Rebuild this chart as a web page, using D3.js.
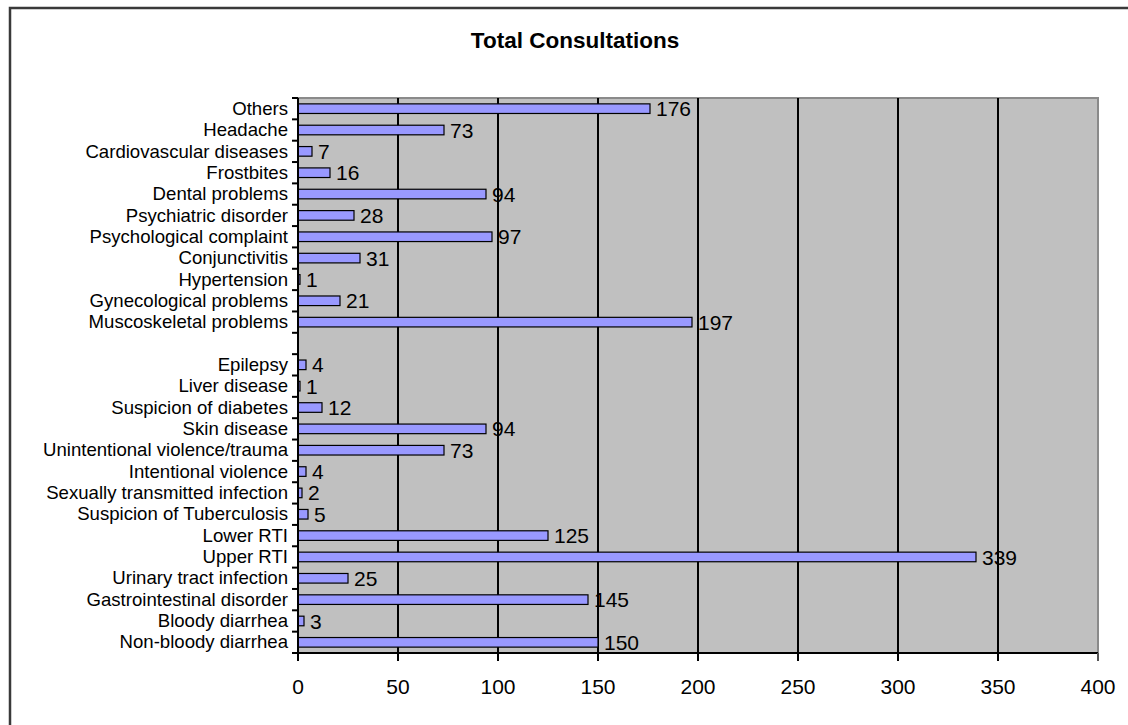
<!DOCTYPE html>
<html>
<head>
<meta charset="utf-8">
<script src="https://cdn.jsdelivr.net/npm/d3@7/dist/d3.min.js"></script>
<style>
  html, body { margin: 0; padding: 0; background: #fff; }
  svg { display: block; font-family: Arial, "Liberation Sans", sans-serif; }
</style>
</head>
<body>
<div id="chart"></div>
<script>
// categories top to bottom; "" is the empty row between the two groups
const categories = [
  "Others", "Headache", "Cardiovascular diseases", "Frostbites", "Dental problems",
  "Psychiatric disorder", "Psychological complaint", "Conjunctivitis", "Hypertension",
  "Gynecological problems", "Muscoskeletal problems", "",
  "Epilepsy", "Liver disease", "Suspicion of diabetes", "Skin disease",
  "Unintentional violence/trauma", "Intentional violence", "Sexually transmitted infection",
  "Suspicion of Tuberculosis", "Lower RTI", "Upper RTI", "Urinary tract infection",
  "Gastrointestinal disorder", "Bloody diarrhea", "Non-bloody diarrhea"
];
const consultations = [
  176, 73, 7, 16, 94,
  28, 97, 31, 1,
  21, 197, null,
  4, 1, 12, 94,
  73, 4, 2,
  5, 125, 339, 25,
  145, 3, 150
];
const xTicks = [0, 50, 100, 150, 200, 250, 300, 350, 400];
const title = "Total Consultations";

const data = categories.map((c, i) => ({ i, name: c, value: consultations[i] }));

const W = 1128, H = 725;
const m = { l: 298, r: 30, t: 98, b: 72 };
const x = d3.scaleLinear().domain([0, 400]).range([m.l, W - m.r]);
const y = d3.scaleBand().domain(data.map((d) => d.i)).range([m.t, H - m.b])
  .paddingInner(0.55).paddingOuter(0.275);
const step = y.step();
const x0 = x(0), x1 = x(400), y0 = m.t, y1 = H - m.b;

const svg = d3.select("#chart").append("svg").attr("width", W).attr("height", H)
  .attr("viewBox", `0 0 ${W} ${H}`);

// outer chart border (cut off at right and bottom)
svg.append("rect").attr("x", 10).attr("y", 8).attr("width", W + 20).attr("height", H + 20)
  .attr("fill", "none").attr("stroke", "#3a3a3a").attr("stroke-width", 2.5);

svg.append("text").attr("x", 575).attr("y", 48).attr("text-anchor", "middle")
  .attr("font-size", 22.5).attr("font-weight", 700).attr("fill", "#000").text(title);

// plot area
svg.append("rect").attr("x", x0).attr("y", y0).attr("width", x1 - x0).attr("height", y1 - y0)
  .attr("fill", "#c0c0c0");
svg.append("path").attr("d", `M${x0},${y0}H${x1}V${y1}`)
  .attr("fill", "none").attr("stroke", "#8a8a8a").attr("stroke-width", 2);

// gridlines
svg.append("g").selectAll("line").data(xTicks.filter((v) => v > 0 && v < 400)).join("line")
  .attr("x1", (d) => x(d)).attr("x2", (d) => x(d)).attr("y1", y0).attr("y2", y1)
  .attr("stroke", "#000").attr("stroke-width", 2);

// bars
const bars = data.filter((d) => d.value != null);
svg.append("g").selectAll("rect").data(bars).join("rect")
  .attr("x", x0).attr("y", (d) => y(d.i)).attr("height", y.bandwidth())
  .attr("width", (d) => x(d.value) - x0)
  .attr("fill", "#9999ff").attr("stroke", "#000").attr("stroke-width", 1.2);

// value labels
svg.append("g").selectAll("text").data(bars).join("text")
  .attr("x", (d) => x(d.value) + 6).attr("y", (d) => y(d.i) + y.bandwidth() / 2).attr("dy", ".36em")
  .attr("font-size", 21).attr("fill", "#000").text((d) => d.value);

// axes
svg.append("line").attr("x1", x0).attr("x2", x0).attr("y1", y0).attr("y2", y1 + 8)
  .attr("stroke", "#000").attr("stroke-width", 2);
svg.append("line").attr("x1", x0 - 6).attr("x2", x1).attr("y1", y1).attr("y2", y1)
  .attr("stroke", "#000").attr("stroke-width", 2);

// y ticks at band boundaries
svg.append("g").selectAll("line").data(d3.range(categories.length + 1)).join("line")
  .attr("x1", x0 - 6).attr("x2", x0).attr("y1", (k) => y0 + k * step).attr("y2", (k) => y0 + k * step)
  .attr("stroke", "#000").attr("stroke-width", 2);

svg.append("g").selectAll("text").data(data.filter((d) => d.name)).join("text")
  .attr("x", x0 - 10).attr("y", (d) => y(d.i) + y.bandwidth() / 2).attr("dy", ".33em")
  .attr("text-anchor", "end").attr("font-size", 18.6).attr("fill", "#000").text((d) => d.name);

// x ticks
svg.append("g").selectAll("line").data(xTicks).join("line")
  .attr("x1", (d) => x(d)).attr("x2", (d) => x(d)).attr("y1", y1).attr("y2", y1 + 8)
  .attr("stroke", (d) => d === 400 ? "#555" : "#000").attr("stroke-width", 2);
svg.append("g").selectAll("text").data(xTicks).join("text")
  .attr("x", (d) => x(d)).attr("y", y1 + 41).attr("text-anchor", "middle")
  .attr("font-size", 21).attr("fill", "#000").text((d) => d);
</script>
</body>
</html>
